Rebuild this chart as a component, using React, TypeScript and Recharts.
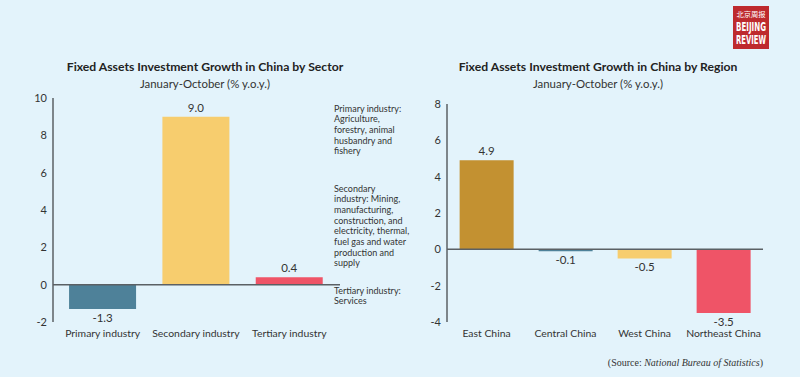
import React from 'react';
import { BarChart, Bar, XAxis, YAxis, Cell, LabelList, ReferenceLine } from 'recharts';

const sectorCategories = ['Primary industry', 'Secondary industry', 'Tertiary industry'];
const sectorValues = [-1.3, 9.0, 0.4];
const sectorColors = ['#4e8199', '#f7cd6e', '#ef5467'];
const sectorTicks = [-2, 0, 2, 4, 6, 8, 10];

const regionCategories = ['East China', 'Central China', 'West China', 'Northeast China'];
const regionValues = [4.9, -0.1, -0.5, -3.5];
const regionColors = ['#c39131', '#4e8199', '#f7cd6e', '#ef5467'];
const regionTicks = [-4, -2, 0, 2, 4, 6, 8];

const sectorTitle = 'Fixed Assets Investment Growth in China by Sector';
const regionTitle = 'Fixed Assets Investment Growth in China by Region';
const subtitle = 'January-October (% y.o.y.)';

const noteLines1 = ['Primary industry:', 'Agriculture,', 'forestry, animal', 'husbandry and', 'fishery'];
const noteLines2 = ['Secondary', 'industry: Mining,', 'manufacturing,', 'construction, and', 'electricity, thermal,', 'fuel gas and water', 'production and', 'supply'];
const noteLines3 = ['Tertiary industry:', 'Services'];

const sectorData = sectorCategories.map((name, i) => ({ name, value: sectorValues[i] }));
const regionData = regionCategories.map((name, i) => ({ name, value: regionValues[i] }));

const FONT = 'Lato, "Open Sans", sans-serif';
const TEXT = '#333';
const AXIS = '#5b6064';
const LOGO_FONT = '"DejaVu Sans Condensed", "Liberation Sans", sans-serif';

const ValueLabel = (props: any) => {
  const { x, y, width, height, value } = props;
  const top = Math.min(y, y + height);
  const bottom = Math.max(y, y + height);
  const cx = x + width / 2;
  const ty = value >= 0 ? top - 5 : bottom + 13;
  return (
    <text x={cx} y={ty} textAnchor="middle" fontSize={11.5} fill={TEXT} fontFamily={FONT}>
      {value.toFixed(1)}
    </text>
  );
};

const Note = ({ lines, top }: { lines: string[]; top: number }) => (
  <div
    style={{
      position: 'absolute',
      left: 334,
      top,
      fontSize: 9,
      lineHeight: '10.7px',
      color: TEXT,
      fontFamily: FONT,
      whiteSpace: 'pre',
    }}
  >
    {lines.join('\n')}
  </div>
);

const Title = ({ text, cx }: { text: string; cx: number }) => (
  <div
    style={{
      position: 'absolute',
      left: cx - 200,
      width: 400,
      top: 59,
      textAlign: 'center',
      fontSize: 12.2,
      fontWeight: 700,
      color: '#222',
      fontFamily: FONT,
    }}
  >
    {text}
  </div>
);

const Sub = ({ cx }: { cx: number }) => (
  <div
    style={{
      position: 'absolute',
      left: cx - 200,
      width: 400,
      top: 76.5,
      textAlign: 'center',
      fontSize: 11.4,
      color: TEXT,
      fontFamily: FONT,
    }}
  >
    {subtitle}
  </div>
);

export default function App() {
  return (
    <div
      style={{
        position: 'fixed',
        left: 0,
        top: 0,
        width: 800,
        height: 377,
        background: '#e3f3fb',
        fontFamily: FONT,
        overflow: 'hidden',
      }}
    >
      <div style={{ position: 'absolute', left: 0, top: 0 }}>
        <BarChart
          width={400}
          height={377}
          data={sectorData}
          margin={{ top: 98, right: 60, bottom: 25, left: 13 }}
          barCategoryGap="14%"
        >
          <XAxis
            dataKey="name"
            axisLine={false}
            tickLine={false}
            height={30}
            interval={0}
            padding={{ left: 3, right: 4 }}
            tick={{ fontSize: 10.4, fill: TEXT, fontFamily: FONT }}
          />
          <YAxis
            width={40}
            domain={[-2, 10]}
            ticks={sectorTicks}
            interval={0}
            tickLine={false}
            tickSize={4}
            axisLine={{ stroke: AXIS, strokeWidth: 1.5 }}
            tick={{ fontSize: 11, fill: TEXT, fontFamily: FONT }}
          />
          <ReferenceLine y={0} stroke={AXIS} strokeWidth={1.5} />
          <Bar dataKey="value" isAnimationActive={false}>
            {sectorData.map((d, i) => (
              <Cell key={d.name} fill={sectorColors[i]} />
            ))}
            <LabelList dataKey="value" content={ValueLabel} />
          </Bar>
        </BarChart>
      </div>
      <div style={{ position: 'absolute', left: 400, top: 0 }}>
        <BarChart
          width={400}
          height={377}
          data={regionData}
          margin={{ top: 104, right: 37, bottom: 25, left: 7 }}
          barCategoryGap="16%"
        >
          <XAxis
            dataKey="name"
            axisLine={false}
            tickLine={false}
            height={30}
            interval={0}
            tick={{ fontSize: 10.4, fill: TEXT, fontFamily: FONT }}
          />
          <YAxis
            width={40}
            domain={[-4, 8]}
            ticks={regionTicks}
            interval={0}
            tickLine={false}
            tickSize={4}
            axisLine={{ stroke: AXIS, strokeWidth: 1.5 }}
            tick={{ fontSize: 11, fill: TEXT, fontFamily: FONT }}
          />
          <ReferenceLine y={0} stroke={AXIS} strokeWidth={1.5} />
          <Bar dataKey="value" isAnimationActive={false}>
            {regionData.map((d, i) => (
              <Cell key={d.name} fill={regionColors[i]} />
            ))}
            <LabelList dataKey="value" content={ValueLabel} />
          </Bar>
        </BarChart>
      </div>

      <Title text={sectorTitle} cx={205} />
      <Sub cx={205} />
      <Title text={regionTitle} cx={598} />
      <Sub cx={598} />

      <Note lines={noteLines1} top={103.5} />
      <Note lines={noteLines2} top={183.5} />
      <Note lines={noteLines3} top={285.5} />

      <div
        style={{
          position: 'absolute',
          right: 37,
          top: 357,
          fontSize: 10,
          color: TEXT,
          fontFamily: '"Liberation Serif", serif',
          whiteSpace: 'pre',
        }}
      >
        (Source: <i>National Bureau of Statistics</i>)
      </div>

      <svg style={{ position: 'absolute', left: 713, top: 6, overflow: 'visible' }} width={76} height={43}>
        <rect x={20} y={0} width={36} height={43} fill="#be2a2e" />
        <text x={38} y={11} textAnchor="middle" fontSize={7} fill="#fff" fontFamily='"Noto Sans CJK SC"' textLength={29} lengthAdjust="spacingAndGlyphs">
          北京周报
        </text>
        <text x={38} y={25} textAnchor="middle" fontSize={12} fontWeight={700} fill="#fff" fontFamily={LOGO_FONT} textLength={30} lengthAdjust="spacingAndGlyphs">
          BEIJING
        </text>
        <text x={38} y={38} textAnchor="middle" fontSize={12} fontWeight={700} fill="#fff" fontFamily={LOGO_FONT} textLength={30} lengthAdjust="spacingAndGlyphs">
          REVIEW
        </text>
      </svg>
    </div>
  );
}
